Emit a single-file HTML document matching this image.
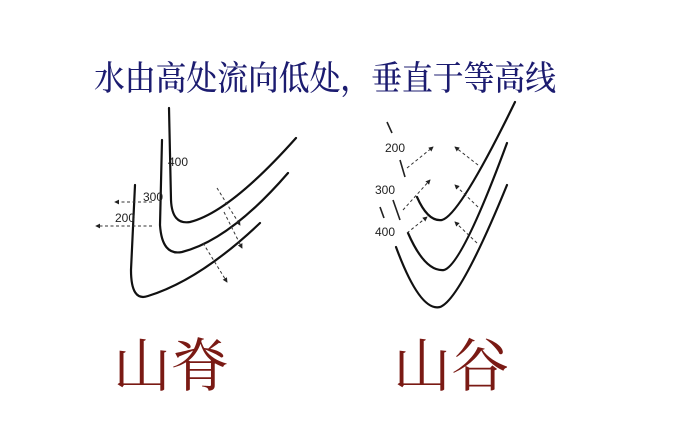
<!DOCTYPE html>
<html><head><meta charset="utf-8"><style>
html,body{margin:0;padding:0;background:#fff;width:689px;height:434px;overflow:hidden}
svg{display:block}
</style></head><body>
<svg width="689" height="434" viewBox="0 0 689 434" xmlns="http://www.w3.org/2000/svg">
<defs>
<marker id="a" viewBox="0 0 6 6" refX="5" refY="3" markerWidth="5" markerHeight="5" orient="auto"><path d="M0,0 L6,3 L0,6z" fill="#222"/></marker>
</defs>
<text x="94" y="90" font-family="'Noto Serif CJK SC','WenQuanYi Zen Hei',serif" font-size="34" font-weight="500" fill="#1c1c70" textLength="462" lengthAdjust="spacingAndGlyphs">水由高处流向低处，垂直于等高线</text>
<g fill="none" stroke="#111" stroke-width="2.2" stroke-linecap="round">
<path d="M169,108 L171,200 Q172,225 190,222 Q230,212 296,138"/>
<path d="M162,140 L160,225 Q162,256 182,252 Q230,240 288,173"/>
<path d="M135,185 L131,270 Q131,302 148,296 Q200,280 260,223"/>
<path d="M417,197 Q428,222 442,220 Q460,215 515,102"/>
<path d="M408,233 Q425,272 444,270 Q462,265 507,143"/>
<path d="M396,247 Q420,312 440,307 Q460,300 507,185"/>
</g>
<g fill="none" stroke="#333" stroke-width="1" stroke-dasharray="3,2.5" marker-end="url(#a)">
<path d="M152,202 L115,202"/>
<path d="M152,226 L96,226"/>
<path d="M217,188 L240,225"/>
<path d="M224,212 L242,248"/>
<path d="M203,243 L227,282"/>
<path d="M407,168 L433,147"/>
<path d="M478,165 L455,147"/>
<path d="M403,210 L430,180"/>
<path d="M478,207 L455,185"/>
<path d="M407,233 L427,217"/>
<path d="M477,243 L455,222"/>
</g>
<g stroke="#222" stroke-width="1.6">
<path d="M387,122 L392,133"/><path d="M400,160 L405,177"/><path d="M393,200 L400,220"/><path d="M380,207 L384,218"/>
</g>
<g font-family="'Liberation Sans',sans-serif" font-size="12" fill="#222">
<text x="168" y="166">400</text><text x="143" y="201">300</text><text x="115" y="222">200</text>
<text x="385" y="152">200</text><text x="375" y="194">300</text><text x="375" y="236">400</text>
</g>
<g font-family="'Noto Serif CJK SC','WenQuanYi Zen Hei',serif" font-size="58" fill="#7a1a14">
<text x="113" y="386">山脊</text><text x="393" y="386">山谷</text>
</g>
</svg>
</body></html>
